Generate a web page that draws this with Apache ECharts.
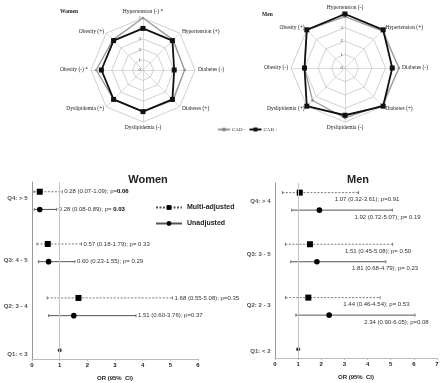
<!DOCTYPE html>
<html><head><meta charset="utf-8">
<script src="https://cdn.jsdelivr.net/npm/echarts@6/dist/echarts.min.js"></script>
<style>html,body{margin:0;padding:0;background:#fff}#c{width:445px;height:383px}</style>
</head><body><div id="c"></div>
<script>
// ---------- Radar data (clockwise from top) ----------
const womenRadarNames = ['Hypertension (-) *','Hypertension (+)','Diabetes (-)','Diabetes (+)','Dyslipidemia (-)','Dyslipidemia (+)','Obesity (-) *','Obesity (+)'];
const menRadarNames = ['Hypertension (-)','Hypertension (+)','Diabetes (-)','Diabetes (+)','Dyslipidemia (-)','Dyslipidemia (+)','Obesity (-)','Obesity (+)'];
const womenCADneg = [5, 4.1, 4, 4.1, 4, 4, 4.5, 4.1];
const womenCADpos = [4, 4, 3, 4, 4, 4, 4, 4];
const menCADneg = [3.8, 3.9, 4, 3.9, 3.7, 3.4, 3, 4];
const menCADpos = [4, 4, 3.5, 4, 3.5, 4, 3, 4];
const womenRadarMax = 5;
const menRadarMax = 4;
const radarSeriesNames = ['CAD -', 'CAD +'];

// ---------- Forest data (rows Q4, Q3, Q2) ----------
const womenQuartiles = ['Q4: > 5', 'Q3: 4 - 5', 'Q2: 3 - 4', 'Q1: < 3'];
const menQuartiles = ['Q4: > 4', 'Q3: 3 - 5', 'Q2: 2 - 3', 'Q1: < 2'];
const womenMultiOR = [0.28, 0.57, 1.68];
const womenMultiLo = [0.07, 0.18, 0.55];
const womenMultiHi = [1.09, 1.79, 5.08];
const womenMultiP = ['p=', '0.06', 'p= ', '0.33', 'p=', '0.35'];
const womenUnadjOR = [0.28, 0.60, 1.51];
const womenUnadjLo = [0.08, 0.23, 0.60];
const womenUnadjHi = [0.89, 1.55, 3.76];
const womenUnadjP = ['p= ', '0.03', 'p= ', '0.29', 'p=', '0.37'];
const womenSignificant = [true, false, false];
const menMultiOR = [1.07, 1.51, 1.44];
const menMultiLo = [0.32, 0.45, 0.46];
const menMultiHi = [3.61, 5.08, 4.54];
const menMultiP = ['p=', '0.91', 'p= ', '0.50', 'p= ', '0.53'];
const menUnadjOR = [1.92, 1.81, 2.34];
const menUnadjLo = [0.72, 0.68, 0.90];
const menUnadjHi = [5.07, 4.79, 6.05];
const menUnadjP = ['p= ', '0.19', 'p= ', '0.23', 'p=', '0.08'];
const menSignificant = [false, false, false];
const referenceOR = 1;
const womenXTicks = [0, 6, 1];
const menXTicks = [0, 7, 1];

// layout (row positions on hidden y scale 0..10)
const rowMultiPos = [9.45, 6.5, 3.45];
const rowUnadjPos = [8.45, 5.5, 2.45];
const refPos = 0.5;
const womenLabelPos = [9.1, 5.6, 2.95, 0.25];
const menLabelPos = [8.95, 5.9, 3.0, 0.4];

const SERIF = 'Liberation Serif';
const SANS = 'Liberation Sans';

// ECharts radar runs counter-clockwise: reorder
const ccw = [0, 7, 6, 5, 4, 3, 2, 1];
function reorder(a) { return ccw.map(i => a[i]); }
function indicators(names, max) {
  return reorder(names).map((n, i) => i === 0 ? { name: n, max: max, axisLabel: { show: true } } : { name: n, max: max });
}

function radarCfg(center, radius, names, max) {
  return {
    center: center, radius: radius, startAngle: 90, shape: 'polygon', splitNumber: max,
    indicator: indicators(names, max),
    axisName: { color: '#222', fontSize: 5.5, fontFamily: SERIF },
    nameGap: 3,
    splitArea: { show: false },
    splitLine: { lineStyle: { color: '#bdbdbd', width: 0.7 } },
    axisLine: { lineStyle: { color: '#c8c8c8', width: 0.7 } },
    axisTick: { show: false },
    axisLabel: { show: false, fontSize: 5, fontFamily: SERIF, color: '#444', margin: 2 }
  };
}

function radarSeries(idx, neg, pos) {
  return {
    type: 'radar', radarIndex: idx, silent: true,
    data: [
      { name: radarSeriesNames[0], value: reorder(neg), symbol: 'circle', symbolSize: 2.5,
        lineStyle: { color: '#9a9a9a', width: 1.3 }, itemStyle: { color: '#8a8a8a' } },
      { name: radarSeriesNames[1], value: reorder(pos), symbol: 'rect', symbolSize: 5,
        lineStyle: { color: '#111', width: 1.8 }, itemStyle: { color: '#111' } }
    ]
  };
}

function forestSeries(name, grid, OR, lo, hi, P, sig, pos, dashed, square, labelMode) {
  const data = OR.map((v, i) => [lo[i], hi[i], v, pos[i]]);
  return {
    type: 'custom', name: name, xAxisIndex: grid, yAxisIndex: grid, silent: true,
    encode: { x: [0, 1, 2], y: 3 },
    data: data,
    renderItem: function (params, api) {
      const i = params.dataIndex;
      const y = api.value(3);
      const a = api.coord([api.value(0), y]);
      const b = api.coord([api.value(1), y]);
      const e = api.coord([api.value(2), y]);
      const stroke = '#555';
      const ls = { stroke: stroke, lineWidth: dashed ? 0.8 : 1, lineDash: dashed ? [2, 1.5] : null };
      const children = [
        { type: 'line', shape: { x1: a[0], y1: a[1], x2: b[0], y2: b[1] }, style: ls },
        { type: 'line', shape: { x1: a[0], y1: a[1] - 1.5, x2: a[0], y2: a[1] + 1.5 }, style: { stroke: stroke, lineWidth: 0.8 } },
        { type: 'line', shape: { x1: b[0], y1: b[1] - 1.5, x2: b[0], y2: b[1] + 1.5 }, style: { stroke: stroke, lineWidth: 0.8 } },
        square
          ? { type: 'rect', shape: { x: e[0] - 3, y: e[1] - 3, width: 6, height: 6 }, style: { fill: '#000' } }
          : { type: 'circle', shape: { cx: e[0], cy: e[1], r: 2.8 }, style: { fill: '#000' } }
      ];
      const pVal = sig[i] ? ('{b|' + P[2 * i + 1] + '}') : P[2 * i + 1];
      const txt = OR[i].toFixed(2) + ' (' + lo[i].toFixed(2) + '-' + hi[i].toFixed(2) + '); ' + P[2 * i] + pVal;
      const tx = labelMode === 'right' ? b[0] + 2 : e[0] + 35;
      const ty = labelMode === 'right' ? b[1] : e[1] + 7;
      children.push({ type: 'text', style: {
        text: txt, x: tx, y: ty, align: 'left', verticalAlign: 'middle',
        fill: '#333', fontSize: 6, fontFamily: SANS,
        rich: { b: { fontWeight: 'bold', fontSize: 6, fontFamily: SANS, fill: '#000' } }
      } });
      return { type: 'group', children: children };
    }
  };
}

function refSeries(grid) {
  return {
    type: 'scatter', xAxisIndex: grid, yAxisIndex: grid, silent: true,
    data: [[referenceOR, refPos]], symbol: 'circle', symbolSize: 4, itemStyle: { color: '#000' },
    markLine: { silent: true, symbol: 'none', label: { show: false },
      lineStyle: { color: '#c4c4c4', width: 1, type: 'solid' }, data: [{ xAxis: referenceOR }] }
  };
}
function labelSeries(grid, names, pos) {
  return {
    type: 'scatter', xAxisIndex: grid, yAxisIndex: grid, silent: true,
    data: names.map((n, i) => ({ value: [0, pos[i]], name: n })),
    symbolSize: 1, itemStyle: { color: 'rgba(0,0,0,0)' },
    label: { show: true, position: 'left', distance: 4, formatter: '{b}',
      fontSize: 6, fontWeight: 'bold', fontFamily: SANS, color: '#222' }
  };
}

function xAxisCfg(grid, t) {
  return {
    type: 'value', gridIndex: grid, min: t[0], max: t[1], interval: t[2],
    name: 'OR (95%  CI)', nameLocation: 'middle', nameGap: 16,
    nameTextStyle: { fontSize: 6, fontWeight: 'bold', fontFamily: SANS, color: '#222' },
    axisLine: { lineStyle: { color: '#bbb', width: 1 } },
    axisTick: { show: true, length: 2, lineStyle: { color: '#bbb' } },
    axisLabel: { fontSize: 6, fontWeight: 'bold', fontFamily: SANS, color: '#222', margin: 3 },
    splitLine: { show: false }
  };
}
function yAxisCfg(grid) {
  return {
    type: 'value', gridIndex: grid, min: 0, max: 10,
    axisLine: { show: true, lineStyle: { color: '#999', width: 1 } },
    axisTick: { show: false }, axisLabel: { show: false }, splitLine: { show: false }
  };
}

const option = {
  backgroundColor: '#fff',
  animation: false,
  title: [
    { text: 'Women', left: 55, top: 4, textStyle: { fontSize: 5.5, fontWeight: 'bold', fontFamily: SERIF, color: '#222' } },
    { text: 'Men', left: 257, top: 7, textStyle: { fontSize: 5.5, fontWeight: 'bold', fontFamily: SERIF, color: '#222' } },
    { text: 'Women', left: 143, textAlign: 'center', top: 169, textStyle: { fontSize: 11, fontWeight: 'bold', fontFamily: SANS, color: '#222' } },
    { text: 'Men', left: 353, textAlign: 'center', top: 169, textStyle: { fontSize: 11, fontWeight: 'bold', fontFamily: SANS, color: '#222' } }
  ],
  legend: [
    { data: ['CAD -', 'CAD +'], left: 212, top: 122, itemWidth: 12, itemHeight: 5, itemGap: 3, selectedMode: false,
      textStyle: { fontSize: 5, fontFamily: SERIF, color: '#222', padding: [0, 0, 0, -3] } },
    { data: ['Multi-adjusted', 'Unadjusted'], orient: 'vertical', left: 150, top: 199, itemWidth: 26, itemHeight: 6, itemGap: 9, selectedMode: false,
      textStyle: { fontSize: 7, fontWeight: 'bold', fontFamily: SANS, color: '#222' } }
  ],
  radar: [
    radarCfg([143, 70], 52, womenRadarNames, womenRadarMax),
    radarCfg([345, 68], 54, menRadarNames, menRadarMax)
  ],
  grid: [
    { left: 32, right: 247, top: 182, bottom: 24 },
    { left: 275, right: 8, top: 183, bottom: 25 }
  ],
  xAxis: [xAxisCfg(0, womenXTicks), xAxisCfg(1, menXTicks)],
  yAxis: [yAxisCfg(0), yAxisCfg(1)],
  series: [
    radarSeries(0, womenCADneg, womenCADpos),
    radarSeries(1, menCADneg, menCADpos),
    { type: 'line', name: 'CAD -', xAxisIndex: 0, yAxisIndex: 0, data: [], symbol: 'circle', symbolSize: 3,
      lineStyle: { color: '#9a9a9a', width: 1 }, itemStyle: { color: '#8a8a8a' } },
    { type: 'line', name: 'CAD +', xAxisIndex: 0, yAxisIndex: 0, data: [], symbol: 'rect', symbolSize: 4,
      lineStyle: { color: '#111', width: 1.5 }, itemStyle: { color: '#111' } },
    { type: 'line', name: 'Multi-adjusted', xAxisIndex: 0, yAxisIndex: 0, data: [], symbol: 'rect', symbolSize: 5,
      lineStyle: { color: '#555', width: 0.8, type: [2, 1.5] }, itemStyle: { color: '#000' } },
    { type: 'line', name: 'Unadjusted', xAxisIndex: 0, yAxisIndex: 0, data: [], symbol: 'circle', symbolSize: 5,
      lineStyle: { color: '#555', width: 1 }, itemStyle: { color: '#000' } },
    refSeries(0), refSeries(1),
    labelSeries(0, womenQuartiles, womenLabelPos),
    labelSeries(1, menQuartiles, menLabelPos),
    forestSeries('wm', 0, womenMultiOR, womenMultiLo, womenMultiHi, womenMultiP, womenSignificant, rowMultiPos, true, true, 'right'),
    forestSeries('wu', 0, womenUnadjOR, womenUnadjLo, womenUnadjHi, womenUnadjP, womenSignificant, rowUnadjPos, false, false, 'right'),
    forestSeries('mm', 1, menMultiOR, menMultiLo, menMultiHi, menMultiP, menSignificant, rowMultiPos, true, true, 'below'),
    forestSeries('mu', 1, menUnadjOR, menUnadjLo, menUnadjHi, menUnadjP, menSignificant, rowUnadjPos, false, false, 'below')
  ]
};
const chart = echarts.init(document.getElementById('c'), null, { renderer: 'canvas' });
chart.setOption(option);
</script></body></html>
